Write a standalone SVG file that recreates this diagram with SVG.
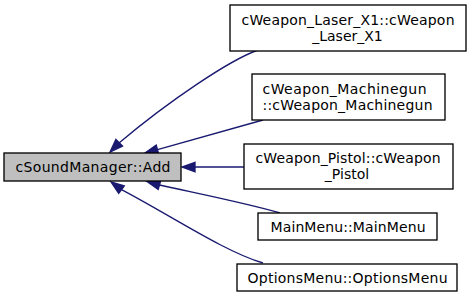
<svg xmlns="http://www.w3.org/2000/svg" width="472" height="296" viewBox="0 0 472 296">
  <style>
    .box { fill: #ffffff; stroke: #000000; stroke-width: 1.33; }
    .cur { fill: #bfbfbf; }
    .lbl { font-family: "DejaVu Sans", "Liberation Sans", sans-serif; font-size: 14px; fill: #000000; text-anchor: middle; }
    .edge { fill: none; stroke: #191970; stroke-width: 1.33; }
    .head { fill: #191970; stroke: #191970; stroke-width: 1.33; }
  </style>
  <rect width="472" height="296" fill="#ffffff"/>

  <!-- call edges (callers point back to cSoundManager::Add) -->
  <g id="edges">
    <path class="edge" d="M258,50 C230,60 170,100 119,143"/>
    <polygon class="head" points="122.5,146.1 110,152 115.9,139.5"/>

    <path class="edge" d="M263,120 L157.5,149.6"/>
    <polygon class="head" points="158.7,154.1 145,153 156.2,145.1"/>

    <path class="edge" d="M244,167 L195,167"/>
    <polygon class="head" points="195,162.3 182,167 195,171.7"/>

    <path class="edge" d="M280,213 C250,204 200,194 159.5,185"/>
    <polygon class="head" points="160.8,180.5 147,181.5 158.2,189.5"/>

    <path class="edge" d="M263,263 C225,252 170,215 121.5,189.6"/>
    <polygon class="head" points="124.3,185.8 111,182 118.7,193.4"/>
  </g>

  <g id="node-add">
    <rect class="box cur" x="4" y="153" width="177" height="28"/>
    <text class="lbl" x="93" y="172" textLength="155" lengthAdjust="spacing">cSoundManager::Add</text>
  </g>

  <g id="node-laser">
    <rect class="box" x="230" y="5" width="236" height="46"/>
    <text class="lbl" x="348" y="25" textLength="213" lengthAdjust="spacing">cWeapon_Laser_X1::cWeapon</text>
    <text class="lbl" x="347.5" y="41">_Laser_X1</text>
  </g>

  <g id="node-machinegun">
    <rect class="box" x="252" y="74" width="193" height="46"/>
    <text class="lbl" x="344.5" y="94" textLength="164" lengthAdjust="spacing">cWeapon_Machinegun</text>
    <text class="lbl" x="347.5" y="110" textLength="170" lengthAdjust="spacing">::cWeapon_Machinegun</text>
  </g>

  <g id="node-pistol">
    <rect class="box" x="244" y="144" width="209" height="45"/>
    <text class="lbl" x="348" y="163" textLength="185" lengthAdjust="spacing">cWeapon_Pistol::cWeapon</text>
    <text class="lbl" x="347" y="179">_Pistol</text>
  </g>

  <g id="node-mainmenu">
    <rect class="box" x="258" y="213" width="179" height="27"/>
    <text class="lbl" x="348" y="231.5" textLength="155" lengthAdjust="spacing">MainMenu::MainMenu</text>
  </g>

  <g id="node-optionsmenu">
    <rect class="box" x="237" y="264" width="220" height="27"/>
    <text class="lbl" x="347.5" y="282.5" textLength="200" lengthAdjust="spacing">OptionsMenu::OptionsMenu</text>
  </g>
</svg>
